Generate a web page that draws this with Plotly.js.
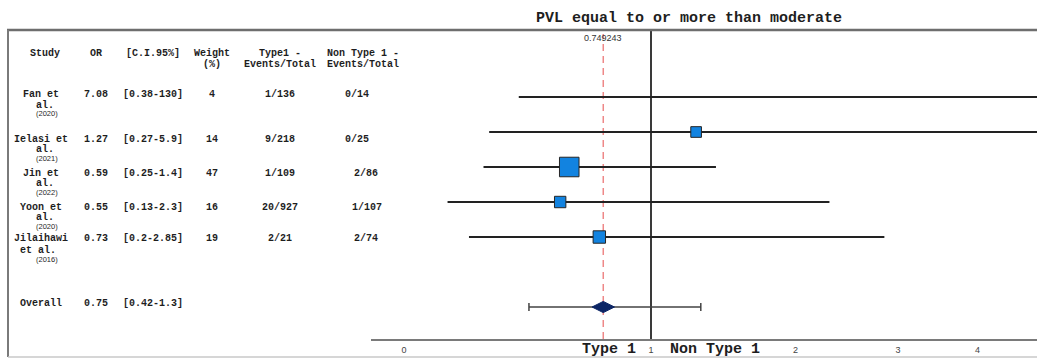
<!DOCTYPE html>
<html>
<head>
<meta charset="utf-8">
<script src="https://cdn.plot.ly/plotly-3.0.1.min.js"></script>
<style>
  html, body { margin: 0; padding: 0; background: #fff; }
  #chart { width: 1037px; height: 359px; }
</style>
</head>
<body>
<div id="chart"></div>
<script>
// ---------------- DATA ----------------
const studyNames   = ["Fan et", "Ielasi et", "Jin et", "Yoon et", "Jilaihawi"];
const studyNames2  = ["al.", "al.", "al.", "al.", "et al."];
const studyYears   = ["(2020)", "(2021)", "(2022)", "(2020)", "(2016)"];
const oddsRatios   = [7.08, 1.27, 0.59, 0.55, 0.73];
const ciLow        = [0.38, 0.27, 0.25, 0.13, 0.2];
const ciHigh       = [130, 5.9, 1.4, 2.3, 2.85];
const weights      = [4, 14, 47, 16, 19];
const type1Events  = ["1/136", "9/218", "1/109", "20/927", "2/21"];
const nonType1Events = ["0/14", "0/25", "2/86", "1/107", "2/74"];
const overallLabel = "Overall";
const overallOR    = 0.749243;
const overallLow   = 0.42;
const overallHigh  = 1.3;
const tickValues   = [0, 1, 2, 3, 4];
const tickLabels   = ["0", "1", "2", "3", "4"];
const headerRow1   = ["Study", "OR", "[C.I.95%]", "Weight", "Type1 -", "Non Type 1 -"];
const headerRow2   = ["", "", "", "(%)", "Events/Total", "Events/Total"];
const titleText    = "PVL equal to or more than moderate";
const leftSideLabel  = "Type 1";
const rightSideLabel = "Non Type 1";

// ---------------- LAYOUT CONSTANTS ----------------
const W = 1037, H = 359;
const plotTop = 30, plotBottom = 339;          // pixel rows of plot area
const plotLeft = 371;                            // pixel column of forest plot start
const px = x => x / W;                           // pixel x -> paper x (margins l=r=0)
const py = y => (plotBottom - y) / (plotBottom - plotTop); // pixel y -> paper y
const axisShift = v => v + 1;                    // axis draws value+1 on a log scale

const rowIndex = [0, 1, 2, 3, 4];
const overallIndex = 6;

// table text pixel positions
const colX = [45, 96, 153, 212, 280, 363];
const header1Y = 53, header2Y = 64;
const rowTextY  = [94, 139, 173, 207, 238];
const row2TextY = [105, 149, 183, 217, 250];
const yearTextY = [113, 158, 192, 226, 259];
const nameX = 41, name2X = [45, 45, 45, 45, 38], yearX = 47;
const nonTypeX = [357, 357, 366, 367, 366];
const overallTextY = 303;

const monoFont = "Courier New, Liberation Mono, monospace";
const sansFont = "Arial, Liberation Sans, sans-serif";

// ---------------- TRACES ----------------
const lineX = [], lineY = [];
oddsRatios.forEach((v, i) => {
  lineX.push(axisShift(ciLow[i]), axisShift(ciHigh[i]), null);
  lineY.push(rowIndex[i], rowIndex[i], null);
});

const ciLines = {
  type: "scatter", mode: "lines", x: lineX, y: lineY,
  line: { color: "#222222", width: 2 }, hoverinfo: "skip", showlegend: false
};

const squares = {
  type: "scatter", mode: "markers",
  x: oddsRatios.map(axisShift), y: rowIndex,
  marker: {
    symbol: "square",
    size: weights.map(w => 2.85 * Math.sqrt(w)),
    color: "#1283e0",
    opacity: 1,
    line: { color: "#262626", width: 1 }
  },
  showlegend: false
};

const overall = {
  type: "scatter", mode: "markers",
  x: [axisShift(overallOR)], y: [overallIndex],
  marker: { symbol: "diamond-wide", size: 16, color: "#0c2565", opacity: 1, line: { color: "#0c2565", width: 1 } },
  error_x: {
    type: "data", symmetric: false,
    array: [overallHigh - overallOR], arrayminus: [overallOR - overallLow],
    color: "#444444", thickness: 1.5, width: 4
  },
  showlegend: false
};

// ---------------- ANNOTATIONS ----------------
const ann = [];
function txt(x, y, text, opts = {}) {
  ann.push(Object.assign({
    xref: "paper", yref: "paper", x: px(x), y: py(y), text: text,
    showarrow: false, xanchor: "center", yanchor: "middle",
    font: { family: monoFont, size: 10, color: "#1e1e1e" }
  }, opts));
}
const bold = s => "<b>" + s + "</b>";

headerRow1.forEach((h, i) => { if (h) txt(colX[i], header1Y, bold(h)); });
headerRow2.forEach((h, i) => { if (h) txt(colX[i], header2Y, bold(h)); });

studyNames.forEach((n, i) => {
  txt(nameX, rowTextY[i], bold(n));
  txt(name2X[i], row2TextY[i], bold(studyNames2[i]));
  txt(yearX, yearTextY[i], studyYears[i], { font: { family: sansFont, size: 7.5, color: "#1e1e1e" } });
  txt(colX[1], rowTextY[i], bold(String(oddsRatios[i])));
  txt(colX[2], rowTextY[i], bold("[" + ciLow[i] + "-" + ciHigh[i] + "]"));
  txt(colX[3], rowTextY[i], bold(String(weights[i])));
  txt(colX[4], rowTextY[i], bold(type1Events[i]));
  txt(nonTypeX[i], rowTextY[i], bold(nonType1Events[i]));
});
txt(nameX, overallTextY, bold(overallLabel));
txt(colX[1], overallTextY, bold(overallOR.toFixed(2)));
txt(colX[2], overallTextY, bold("[" + overallLow + "-" + overallHigh + "]"));

// pooled estimate label (annotation x on a log axis is given in log10 units)
ann.push({
  xref: "x", yref: "paper", x: Math.log10(axisShift(overallOR)), y: py(38),
  text: String(overallOR), showarrow: false, xanchor: "center", yanchor: "middle",
  font: { family: sansFont, size: 9, color: "#333" }
});
// side labels
txt(638, 349, bold(leftSideLabel), { xanchor: "right", font: { family: monoFont, size: 15, color: "#1e1e1e" } });
txt(668, 349, bold(rightSideLabel), { xanchor: "left", font: { family: monoFont, size: 15, color: "#1e1e1e" } });

// ---------------- SHAPES ----------------
const shapes = [
  // frame
  { type: "line", xref: "paper", yref: "paper", x0: px(7), x1: 1, y0: 1, y1: 1, line: { color: "#6e6e6e", width: 2.5 }, layer: "above" },
  { type: "line", xref: "paper", yref: "paper", x0: px(8), x1: px(8), y0: py(357), y1: 1, line: { color: "#7a7a7a", width: 2 }, layer: "above" },
  { type: "line", xref: "paper", yref: "paper", x0: px(8), x1: 1, y0: py(357), y1: py(357), line: { color: "#c8c8c8", width: 1.5 }, layer: "above" },
  // null line at OR = 1 (shapes on a log axis take data values)
  { type: "line", xref: "x", yref: "paper", x0: axisShift(1), x1: axisShift(1), y0: 0, y1: 1, line: { color: "#3a3a3a", width: 2 }, layer: "below" },
  // pooled estimate dashed line
  { type: "line", xref: "x", yref: "paper", x0: axisShift(overallOR), x1: axisShift(overallOR), y0: 0, y1: py(34), line: { color: "#ee8888", width: 1.5, dash: "7px,5px" }, layer: "below" }
];

// ---------------- LAYOUT ----------------
const pxPerDecade = 820.5;
const x0px = 404; // pixel of displayed value 0
const layout = {
  width: W, height: H,
  margin: { l: 0, r: 0, t: plotTop, b: H - plotBottom, pad: 0 },
  paper_bgcolor: "#ffffff", plot_bgcolor: "rgba(0,0,0,0)",
  showlegend: false,
  title: {
    text: bold(titleText), xref: "paper", x: px(689), xanchor: "center",
    yref: "container", y: 1 - 17 / H, yanchor: "middle",
    font: { family: monoFont, size: 15, color: "#1e1e1e" }
  },
  xaxis: {
    type: "log", domain: [px(plotLeft), 1],
    range: [(plotLeft - x0px) / pxPerDecade, (W - x0px) / pxPerDecade],
    tickvals: tickValues.map(axisShift), ticktext: tickLabels,
    showgrid: false, zeroline: false, showline: true, linecolor: "#7a7a7a", linewidth: 2,
    ticks: "", tickfont: { family: sansFont, size: 9, color: "#444" }, ticklabelstandoff: 1
  },
  yaxis: {
    range: [overallIndex + 0.914, -(97 - plotTop) / 35],
    showgrid: false, zeroline: false, showline: false, showticklabels: false, ticks: ""
  },
  annotations: ann,
  shapes: shapes
};

Plotly.newPlot("chart", [ciLines, overall, squares], layout, { displayModeBar: false, staticPlot: true });
</script>
</body>
</html>
